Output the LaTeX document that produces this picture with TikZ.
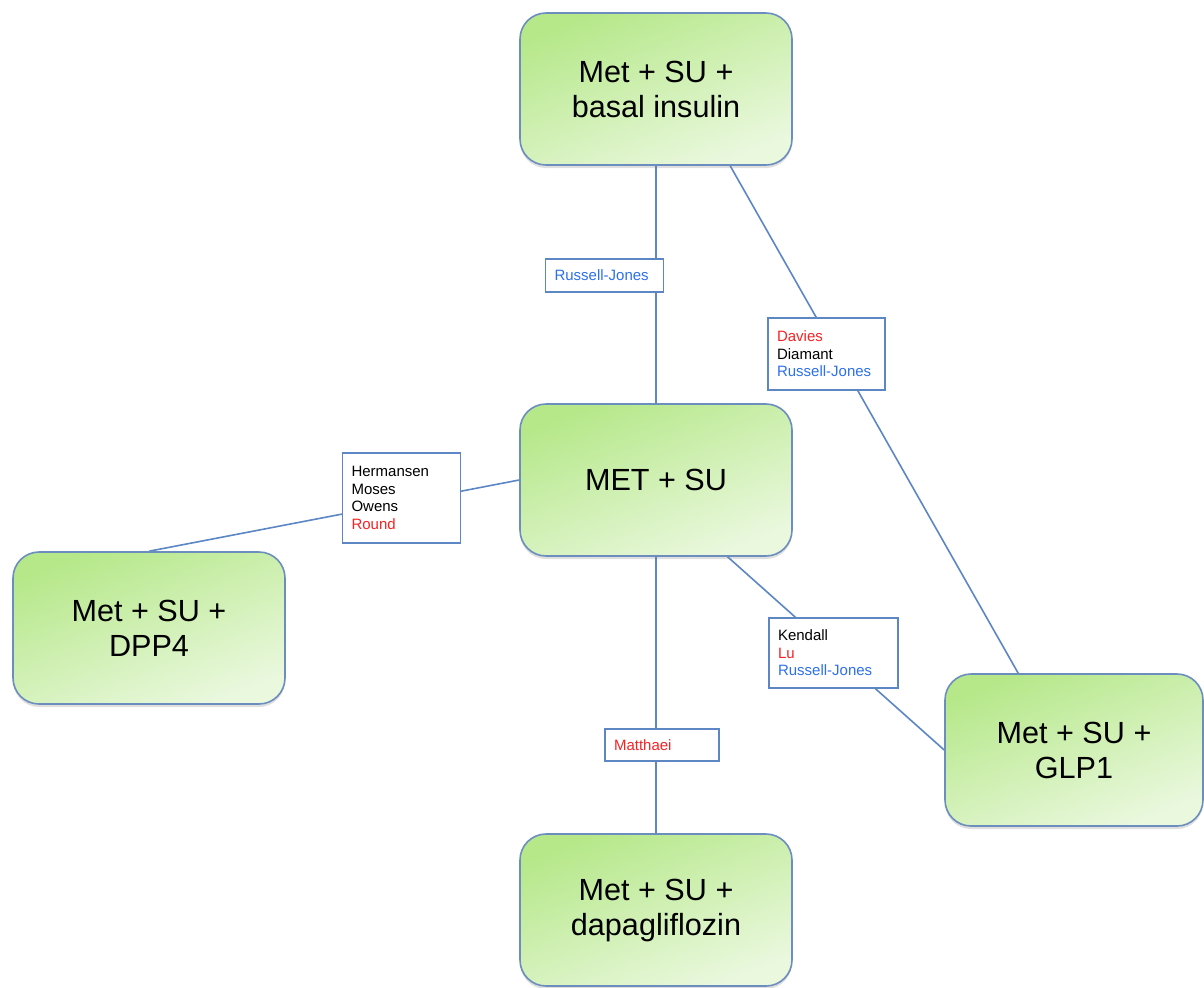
\documentclass[tikz,border=0pt]{standalone}
\usepackage{fontspec}
\setmainfont{Liberation Sans}
\usetikzlibrary{backgrounds,shadows}

\definecolor{greenTL}{RGB}{182,232,138}
\definecolor{greenBR}{RGB}{234,248,222}
\definecolor{boxedge}{RGB}{108,142,190}
\definecolor{linkblue}{RGB}{92,134,196}
\definecolor{refred}{RGB}{245,35,35}
\definecolor{refblue}{RGB}{45,112,235}

\tikzset{
  drugbox/.style={rounded corners=13pt, draw=boxedge, line width=0.8pt,
    top color=greenTL, bottom color=greenBR, shading angle=22,
    drop shadow={opacity=0.25, shadow xshift=0pt, shadow yshift=-1.5pt},
    minimum width=136pt, minimum height=76pt, inner sep=0pt,
    align=center, font=\fontsize{15.3}{17.5}\selectfont},
  trialbox/.style={draw=linkblue, fill=white, line width=0.7pt,
    inner xsep=4.5pt, inner ysep=0pt, align=left,
    font=\fontsize{7.5}{8.8}\selectfont},
  link/.style={draw=linkblue, line width=0.8pt}
}

\begin{document}
\begin{tikzpicture}[x=0.5pt,y=-0.5pt]
\useasboundingbox (0,0) rectangle (1204,987);

% treatment boxes
\node[drugbox] (top) at (656,89) {Met + SU +\\basal insulin};
\node[drugbox] (mid) at (656,480) {MET + SU};
\node[drugbox] (dpp) at (149,628) {Met + SU +\\DPP4};
\node[drugbox, minimum width=129pt] (glp) at (1074,750) {Met + SU +\\GLP1};
\node[drugbox] (dapa) at (656,910) {Met + SU +\\dapagliflozin};

% trial labels
\node[trialbox, text width=50pt, minimum height=16.5pt] (rjA) at (604.5,275.5)
  {\textcolor{refblue}{Russell-Jones}};
\node[trialbox, text width=49.5pt, minimum height=36pt] (dvs) at (826.5,354)
  {\textcolor{refred}{Davies}\\Diamant\\\textcolor{refblue}{Russell-Jones}};
\node[trialbox, text width=50pt, minimum height=45pt] (hrm) at (401.5,498)
  {Hermansen\\Moses\\Owens\\\textcolor{refred}{Round}};
\node[trialbox, text width=55.5pt, minimum height=35pt] (knd) at (833.5,653)
  {Kendall\\\textcolor{refred}{Lu}\\\textcolor{refblue}{Russell-Jones}};
\node[trialbox, text width=48pt, minimum height=16pt] (mtt) at (662,745)
  {\textcolor{refred}{Matthaei}};

% connectors
\begin{scope}[on background layer]
\draw[link] (top.south) -- (mid.north);
\draw[link] (top.-46.5) -- (glp.126.4);
\draw[link] (mid.west) -- (dpp.north);
\draw[link] (mid.south) -- (dapa.north);
\draw[link] (mid.-47.8) -- (glp.west);
\end{scope}

\end{tikzpicture}
\end{document}
